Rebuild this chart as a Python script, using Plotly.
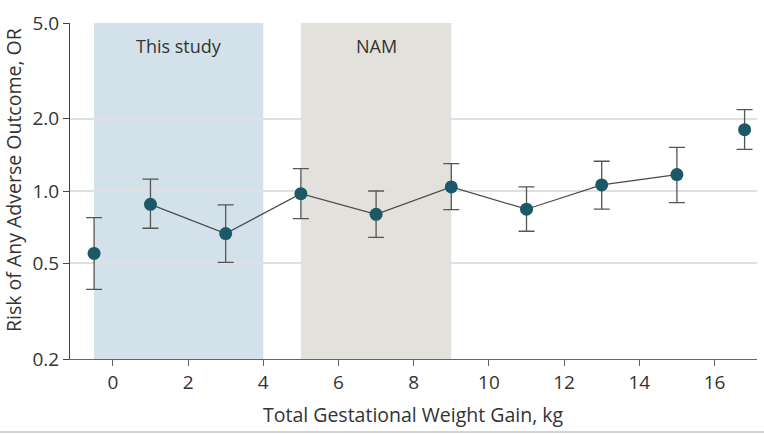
import plotly.graph_objects as go

# Data
gain_kg = [-0.5, 1, 3, 5, 7, 9, 11, 13, 15, 16.8]
odds_ratio = [0.55, 0.88, 0.665, 0.975, 0.80, 1.04, 0.84, 1.06, 1.17, 1.80]
ci_upper = [0.775, 1.12, 0.875, 1.24, 1.0, 1.30, 1.04, 1.33, 1.52, 2.18]
ci_lower = [0.39, 0.70, 0.505, 0.767, 0.641, 0.837, 0.68, 0.84, 0.895, 1.49]
connected = slice(1, 9)

regions = [("This study", -0.5, 4, "#d3e2ea"), ("NAM", 5, 9, "#e3e1dc")]

y_ticks = [0.2, 0.5, 1.0, 2.0, 5.0]
y_ticktext = ["0.2", "0.5", "1.0", "2.0", "5.0"]
x_ticks = [0, 2, 4, 6, 8, 10, 12, 14, 16]

FONT = "Open Sans, sans-serif"
TXT = "#333333"

W, H = 764, 435
ML, MR, MT, MB = 70, 7, 23, 76
PW, PH = W - ML - MR, H - MT - MB

fig = go.Figure()

fig.add_trace(go.Scatter(
    x=gain_kg[connected], y=odds_ratio[connected], mode="lines",
    line=dict(color="#4a4a4a", width=1.2), hoverinfo="skip", showlegend=False))

err_plus = [u - v for u, v in zip(ci_upper, odds_ratio)]
err_minus = [v - l for v, l in zip(odds_ratio, ci_lower)]

fig.add_trace(go.Scatter(
    x=gain_kg, y=odds_ratio, mode="markers",
    marker=dict(color="#1b5966", size=13),
    error_y=dict(type="data", symmetric=False, array=err_plus, arrayminus=err_minus,
                 color="#555555", thickness=1.3, width=8),
    showlegend=False))

shapes = []
annotations = []
for name, x0, x1, col in regions:
    shapes.append(dict(type="rect", xref="x", yref="paper", x0=x0, x1=x1, y0=0, y1=1,
                       fillcolor=col, line=dict(width=0), layer="below"))
    annotations.append(dict(x=(x0 + x1) / 2, y=1 - 9 / PH, xref="x", yref="paper",
                            text=name, showarrow=False, yanchor="top",
                            font=dict(family=FONT, size=18, color=TXT)))

# axis titles
annotations.append(dict(x=(413 - ML) / PW, y=-(414 - (MT + PH)) / PH, xref="paper", yref="paper",
                        text="Total Gestational Weight Gain, kg", showarrow=False,
                        xanchor="center", yanchor="middle",
                        font=dict(family=FONT, size=19.5, color=TXT)))
annotations.append(dict(x=-(ML - 13) / PW, y=1 - (180 - MT) / PH, xref="paper", yref="paper",
                        text="Risk of Any Adverse Outcome, OR", showarrow=False, textangle=-90,
                        xanchor="center", yanchor="middle",
                        font=dict(family=FONT, size=19.5, color=TXT)))

# bottom separator line
shapes.append(dict(type="line", xref="paper", yref="paper", x0=-ML / PW, x1=(W - ML) / PW,
                   y0=-(432 - (MT + PH)) / PH, y1=-(432 - (MT + PH)) / PH,
                   line=dict(color="#aaaaaa", width=1.2)))

fig.update_layout(
    width=W, height=H,
    margin=dict(l=ML, r=MR, t=MT, b=MB, autoexpand=False),
    paper_bgcolor="white", plot_bgcolor="white",
    shapes=shapes, annotations=annotations,
    font=dict(family=FONT, size=16, color=TXT),
    xaxis=dict(range=[-1.14, 17.13], tickvals=x_ticks, showgrid=False, zeroline=False,
               showline=True, linecolor="#666666", linewidth=1.2, automargin=False,
               ticks="outside", ticklen=6, tickcolor="#666666",
               tickfont=dict(family=FONT, size=19, color=TXT)),
    yaxis=dict(type="log", range=[-0.69897, 0.69897], tickvals=y_ticks, ticktext=y_ticktext,
               showgrid=True, gridcolor="#e0e0e0", gridwidth=1.5, zeroline=False,
               showline=True, linecolor="#444444", linewidth=1.2, automargin=False,
               ticks="outside", ticklen=6, tickcolor="#444444",
               tickfont=dict(family=FONT, size=19, color=TXT)),
)

fig.write_html("out.html", config={"displayModeBar": False},
               post_script="document.body.style.margin='0';document.body.style.padding='0';")
